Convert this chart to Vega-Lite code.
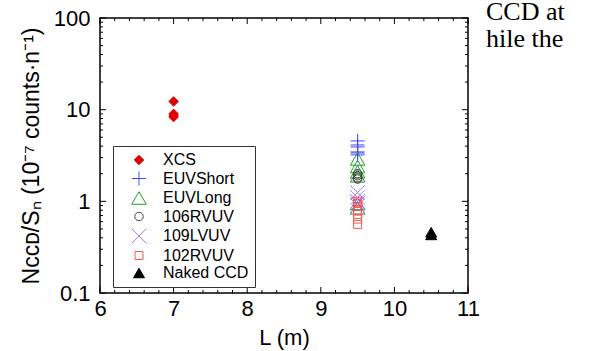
{
  "$schema": "https://vega.github.io/schema/vega-lite/v6.json",
  "width": 368,
  "height": 275,
  "autosize": {"type": "none"},
  "padding": {"left": 100, "top": 18, "right": 122, "bottom": 58},
  "background": "white",
  "config": {
    "view": {"stroke": "black", "strokeWidth": 1.5},
    "font": "Liberation Sans",
    "axis": {"labelColor": "black", "titleColor": "black", "labelFont": "Liberation Sans", "titleFont": "Liberation Sans", "titleFontWeight": "normal", "grid": false}
  },
  "title": {
    "text": ["CCD at", "hile the"],
    "anchor": "end",
    "frame": "group",
    "align": "left",
    "dx": 18,
    "offset": 0,
    "dy": 66,
    "baseline": "alphabetic",
    "font": "Liberation Serif",
    "fontSize": 26,
    "fontWeight": "normal",
    "lineHeight": 27,
    "color": "black"
  },
  "datasets": {
    "xmaj": [{"t": 6}, {"t": 7}, {"t": 8}, {"t": 9}, {"t": 10}, {"t": 11}],
    "xmin": [{"t": 6.2}, {"t": 6.4}, {"t": 6.6}, {"t": 6.8}, {"t": 7.2}, {"t": 7.4}, {"t": 7.6}, {"t": 7.8}, {"t": 8.2}, {"t": 8.4}, {"t": 8.6}, {"t": 8.8}, {"t": 9.2}, {"t": 9.4}, {"t": 9.6}, {"t": 9.8}, {"t": 10.2}, {"t": 10.4}, {"t": 10.6}, {"t": 10.8}],
    "ymaj": [{"t": 0.1}, {"t": 1}, {"t": 10}, {"t": 100}],
    "ymin": [{"t": 0.2}, {"t": 0.3}, {"t": 0.4}, {"t": 0.5}, {"t": 0.6}, {"t": 0.7}, {"t": 0.8}, {"t": 0.9}, {"t": 2}, {"t": 3}, {"t": 4}, {"t": 5}, {"t": 6}, {"t": 7}, {"t": 8}, {"t": 9}, {"t": 20}, {"t": 30}, {"t": 40}, {"t": 50}, {"t": 60}, {"t": 70}, {"t": 80}, {"t": 90}],
    "pts": [
      {"L": 7, "v": 12.3, "s": "XCS"},
      {"L": 7, "v": 9.0, "s": "XCS"},
      {"L": 7, "v": 8.6, "s": "XCS"},
      {"L": 7, "v": 8.3, "s": "XCS"},
      {"L": 9.5, "v": 4.56, "s": "EUVShort"},
      {"L": 9.5, "v": 4.12, "s": "EUVShort"},
      {"L": 9.5, "v": 3.92, "s": "EUVShort"},
      {"L": 9.5, "v": 3.46, "s": "EUVShort"},
      {"L": 9.5, "v": 3.37, "s": "EUVShort"},
      {"L": 9.5, "v": 3.21, "s": "EUVShort"},
      {"L": 9.5, "v": 2.9, "s": "EUVLong"},
      {"L": 9.5, "v": 2.4, "s": "EUVLong"},
      {"L": 9.5, "v": 2.1, "s": "EUVLong"},
      {"L": 9.5, "v": 1.9, "s": "EUVLong"},
      {"L": 9.5, "v": 0.95, "s": "EUVLong"},
      {"L": 9.5, "v": 0.85, "s": "EUVLong"},
      {"L": 9.5, "v": 2.0, "s": "106RVUV"},
      {"L": 9.5, "v": 1.9, "s": "106RVUV"},
      {"L": 9.5, "v": 1.8, "s": "106RVUV"},
      {"L": 9.5, "v": 1.75, "s": "106RVUV"},
      {"L": 9.5, "v": 1.25, "s": "109LVUV"},
      {"L": 9.5, "v": 1.1, "s": "109LVUV"},
      {"L": 9.5, "v": 1.0, "s": "109LVUV"},
      {"L": 9.5, "v": 0.95, "s": "109LVUV"},
      {"L": 9.5, "v": 0.9, "s": "109LVUV"},
      {"L": 9.5, "v": 1.0, "s": "102RVUV"},
      {"L": 9.5, "v": 0.95, "s": "102RVUV"},
      {"L": 9.5, "v": 0.88, "s": "102RVUV"},
      {"L": 9.5, "v": 0.8, "s": "102RVUV"},
      {"L": 9.5, "v": 0.72, "s": "102RVUV"},
      {"L": 9.5, "v": 0.64, "s": "102RVUV"},
      {"L": 9.5, "v": 0.56, "s": "102RVUV"},
      {"L": 10.5, "v": 0.46, "s": "Naked CCD"},
      {"L": 10.5, "v": 0.43, "s": "Naked CCD"}
    ]
  },
  "resolve": {"axis": {"x": "independent", "y": "independent"}},
  "layer": [
    {
      "data": {"name": "pts"},
      "mark": {"type": "point", "strokeWidth": 1, "opacity": 1},
      "encoding": {
        "x": {
          "field": "L", "type": "quantitative",
          "scale": {"domain": [6, 11], "nice": false, "zero": false},
          "axis": {
            "orient": "bottom",
            "title": "L (m)",
            "titleFontSize": 22,
            "titlePadding": 8,
            "values": [6, 7, 8, 9, 10, 11],
            "format": "d",
            "labelFontSize": 22,
            "labelFlush": false,
            "labelOverlap": false,
            "labelPadding": 5,
            "domain": false,
            "ticks": false,
            "grid": false
          }
        },
        "y": {
          "field": "v", "type": "quantitative",
          "scale": {"type": "log", "domain": [0.1, 100], "nice": false},
          "axis": {
            "orient": "left",
            "title": "Nᴄᴄᴅ/Sₙ (10⁻⁷ counts·n⁻¹)",
            "titleFontSize": 23,
            "titlePadding": 10,
            "values": [0.1, 1, 10, 100],
            "labelExpr": "datum.value == 0.1 ? '0.1' : datum.value == 1 ? '1' : datum.value == 10 ? '10' : '100'",
            "labelFontSize": 22,
            "labelFlush": false,
            "labelOverlap": false,
            "labelPadding": 10,
            "domain": false,
            "ticks": false,
            "grid": false
          }
        },
        "fill": {
          "field": "s", "type": "nominal",
          "scale": {
            "domain": ["XCS", "EUVShort", "EUVLong", "106RVUV", "109LVUV", "102RVUV", "Naked CCD"],
            "range": ["#e00000", "transparent", "transparent", "transparent", "transparent", "transparent", "#000000"]
          },
          "legend": {
            "orient": "none",
            "legendX": 13,
            "legendY": 128,
            "title": null,
            "strokeColor": "#333333",
            "fillColor": "white",
            "padding": 6,
            "symbolOffset": 12,
            "labelOffset": 16,
            "labelFontSize": 16,
            "labelFont": "Liberation Sans",
            "rowPadding": 1.5,
            "symbolStrokeWidth": 1,
            "encode": {
              "labels": {"update": {"fill": {"signal": "datum.label === 'XCS' || datum.label === '102RVUV' ? '#ff0000' : datum.label === 'EUVShort' ? '#2222ee' : datum.label === 'EUVLong' ? '#008a00' : datum.label === '109LVUV' ? '#8833ee' : '#000000'"}}}
            }
          }
        },
        "stroke": {
          "field": "s", "type": "nominal",
          "scale": {
            "domain": ["XCS", "EUVShort", "EUVLong", "106RVUV", "109LVUV", "102RVUV", "Naked CCD"],
            "range": ["#e00000", "#4444ff", "#22a022", "#404040", "#a080ff", "#ff5050", "#000000"]
          },
          "legend": {"orient": "none", "legendX": 13, "legendY": 128, "title": null}
        },
        "shape": {
          "field": "s", "type": "nominal",
          "scale": {
            "domain": ["XCS", "EUVShort", "EUVLong", "106RVUV", "109LVUV", "102RVUV", "Naked CCD"],
            "range": ["diamond", "M-1,0L1,0M0,-1L0,1", "triangle-up", "circle", "M-1,-1L1,1M-1,1L1,-1", "square", "triangle-up"]
          },
          "legend": {"orient": "none", "legendX": 13, "legendY": 128, "title": null}
        },
        "size": {
          "field": "s", "type": "nominal",
          "scale": {
            "type": "ordinal",
            "domain": ["XCS", "EUVShort", "EUVLong", "106RVUV", "109LVUV", "102RVUV", "Naked CCD"],
            "range": [90, 196, 210, 72, 210, 64, 121]
          },
          "legend": {"orient": "none", "legendX": 13, "legendY": 128, "title": null}
        }
      }
    },
    {
      "data": {"name": "xmaj"},
      "mark": {"type": "tick", "orient": "vertical", "size": 6, "thickness": 1, "color": "black", "opacity": 1, "yOffset": -3},
      "encoding": {
        "x": {"field": "t", "type": "quantitative", "scale": {"domain": [6, 11], "nice": false, "zero": false}, "axis": null},
        "y": {"datum": 0.1, "type": "quantitative", "scale": {"type": "log", "domain": [0.1, 100], "nice": false}, "axis": null}
      }
    },
    {
      "data": {"name": "xmaj"},
      "mark": {"type": "tick", "orient": "vertical", "size": 6, "thickness": 1, "color": "black", "opacity": 1, "yOffset": 3},
      "encoding": {
        "x": {"field": "t", "type": "quantitative", "scale": {"domain": [6, 11], "nice": false, "zero": false}, "axis": null},
        "y": {"datum": 100, "type": "quantitative", "scale": {"type": "log", "domain": [0.1, 100], "nice": false}, "axis": null}
      }
    },
    {
      "data": {"name": "xmin"},
      "mark": {"type": "tick", "orient": "vertical", "size": 3, "thickness": 1, "color": "black", "opacity": 1, "yOffset": -1.5},
      "encoding": {
        "x": {"field": "t", "type": "quantitative", "scale": {"domain": [6, 11], "nice": false, "zero": false}, "axis": null},
        "y": {"datum": 0.1, "type": "quantitative", "scale": {"type": "log", "domain": [0.1, 100], "nice": false}, "axis": null}
      }
    },
    {
      "data": {"name": "xmin"},
      "mark": {"type": "tick", "orient": "vertical", "size": 3, "thickness": 1, "color": "black", "opacity": 1, "yOffset": 1.5},
      "encoding": {
        "x": {"field": "t", "type": "quantitative", "scale": {"domain": [6, 11], "nice": false, "zero": false}, "axis": null},
        "y": {"datum": 100, "type": "quantitative", "scale": {"type": "log", "domain": [0.1, 100], "nice": false}, "axis": null}
      }
    },
    {
      "data": {"name": "ymaj"},
      "mark": {"type": "tick", "orient": "horizontal", "size": 6, "thickness": 1, "color": "black", "opacity": 1, "xOffset": 3},
      "encoding": {
        "x": {"datum": 6, "type": "quantitative", "scale": {"domain": [6, 11], "nice": false, "zero": false}, "axis": null},
        "y": {"field": "t", "type": "quantitative", "scale": {"type": "log", "domain": [0.1, 100], "nice": false}, "axis": null}
      }
    },
    {
      "data": {"name": "ymaj"},
      "mark": {"type": "tick", "orient": "horizontal", "size": 6, "thickness": 1, "color": "black", "opacity": 1, "xOffset": -3},
      "encoding": {
        "x": {"datum": 11, "type": "quantitative", "scale": {"domain": [6, 11], "nice": false, "zero": false}, "axis": null},
        "y": {"field": "t", "type": "quantitative", "scale": {"type": "log", "domain": [0.1, 100], "nice": false}, "axis": null}
      }
    },
    {
      "data": {"name": "ymin"},
      "mark": {"type": "tick", "orient": "horizontal", "size": 3, "thickness": 1, "color": "black", "opacity": 1, "xOffset": 1.5},
      "encoding": {
        "x": {"datum": 6, "type": "quantitative", "scale": {"domain": [6, 11], "nice": false, "zero": false}, "axis": null},
        "y": {"field": "t", "type": "quantitative", "scale": {"type": "log", "domain": [0.1, 100], "nice": false}, "axis": null}
      }
    },
    {
      "data": {"name": "ymin"},
      "mark": {"type": "tick", "orient": "horizontal", "size": 3, "thickness": 1, "color": "black", "opacity": 1, "xOffset": -1.5},
      "encoding": {
        "x": {"datum": 11, "type": "quantitative", "scale": {"domain": [6, 11], "nice": false, "zero": false}, "axis": null},
        "y": {"field": "t", "type": "quantitative", "scale": {"type": "log", "domain": [0.1, 100], "nice": false}, "axis": null}
      }
    }
  ]
}
